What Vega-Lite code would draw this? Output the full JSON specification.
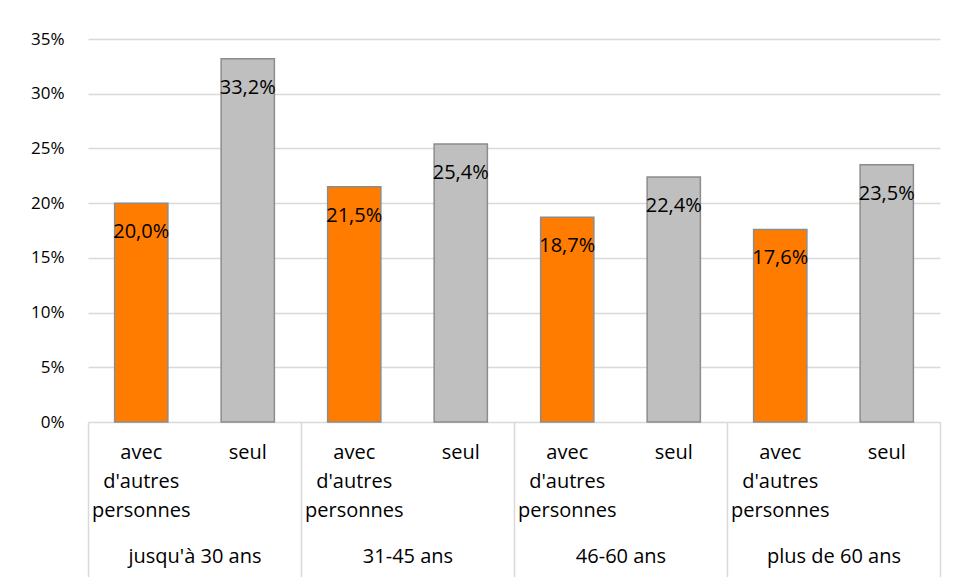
{
  "$schema": "https://vega.github.io/schema/vega-lite/v6.json",
  "width": 852,
  "height": 383,
  "autosize": {"type": "none"},
  "padding": {"left": 88, "top": 39, "right": 17, "bottom": 155},
  "background": "white",
  "config": {
    "locale": {"number": {"decimal": ",", "thousands": " ", "grouping": [3], "currency": ["", " €"]}},
    "view": {"stroke": null},
    "font": "Open Sans"
  },
  "data": {
    "values": [
      {"age": "jusqu'à 30 ans", "type": "avec d'autres personnes", "key": "1|avec d'autres personnes", "value": 0.200},
      {"age": "jusqu'à 30 ans", "type": "seul", "key": "2|seul", "value": 0.332},
      {"age": "31-45 ans", "type": "avec d'autres personnes", "key": "3|avec d'autres personnes", "value": 0.215},
      {"age": "31-45 ans", "type": "seul", "key": "4|seul", "value": 0.254},
      {"age": "46-60 ans", "type": "avec d'autres personnes", "key": "5|avec d'autres personnes", "value": 0.187},
      {"age": "46-60 ans", "type": "seul", "key": "6|seul", "value": 0.224},
      {"age": "plus de 60 ans", "type": "avec d'autres personnes", "key": "7|avec d'autres personnes", "value": 0.176},
      {"age": "plus de 60 ans", "type": "seul", "key": "8|seul", "value": 0.235}
    ]
  },
  "layer": [
    {
      "layer": [
        {
          "mark": {"type": "bar", "stroke": "#8C8C8C", "strokeWidth": 1.5, "width": {"band": 0.5}},
          "encoding": {
            "x": {
              "field": "key", "type": "nominal", "sort": null,
              "scale": {"paddingInner": 0, "paddingOuter": 0},
              "axis": {
                "title": null, "orient": "bottom", "ticks": false, "domain": false, "grid": false,
                "labelAngle": 0, "labelExpr": "split(split(datum.label, '|')[1], ' ')",
                "labelFontSize": 20, "labelLineHeight": 29, "labelPadding": 20, "labelColor": "#000000",
                "labelLimit": 0, "labelOverlap": false, "labelBaseline": "top"
              }
            },
            "y": {
              "field": "value", "type": "quantitative",
              "scale": {"domain": [0, 0.35]},
              "axis": {
                "title": null, "format": ".0%", "values": [0, 0.05, 0.1, 0.15, 0.2, 0.25, 0.3, 0.35],
                "ticks": false, "domain": false, "gridColor": "#D9D9D9", "gridWidth": 1.5,
                "labelFontSize": 17, "labelPadding": 24, "labelColor": "#000000"
              }
            },
            "color": {
              "field": "type", "type": "nominal",
              "scale": {"domain": ["avec d'autres personnes", "seul"], "range": ["#FF7C00", "#BFBFBF"]},
              "legend": null
            }
          }
        },
        {
          "mark": {"type": "text", "baseline": "middle", "dy": 29, "fontSize": 20, "color": "#000000"},
          "encoding": {
            "x": {"field": "key", "type": "nominal", "sort": null},
            "y": {"field": "value", "type": "quantitative"},
            "text": {"field": "value", "type": "quantitative", "format": ".1%"}
          }
        }
      ]
    },
    {
      "mark": {"type": "tick", "opacity": 0},
      "encoding": {
        "x": {
          "field": "age", "type": "nominal", "sort": null,
          "scale": {"paddingInner": 0, "paddingOuter": 0},
          "axis": {
            "title": null, "orient": "bottom", "labelAngle": 0, "tickBand": "extent",
            "tickSize": 155, "tickColor": "#D9D9D9", "tickWidth": 1.5, "domain": false, "grid": false,
            "labelPadding": -31, "labelFontSize": 20, "labelColor": "#000000", "labelBaseline": "top"
          }
        }
      }
    }
  ],
  "resolve": {"scale": {"x": "independent"}}
}
